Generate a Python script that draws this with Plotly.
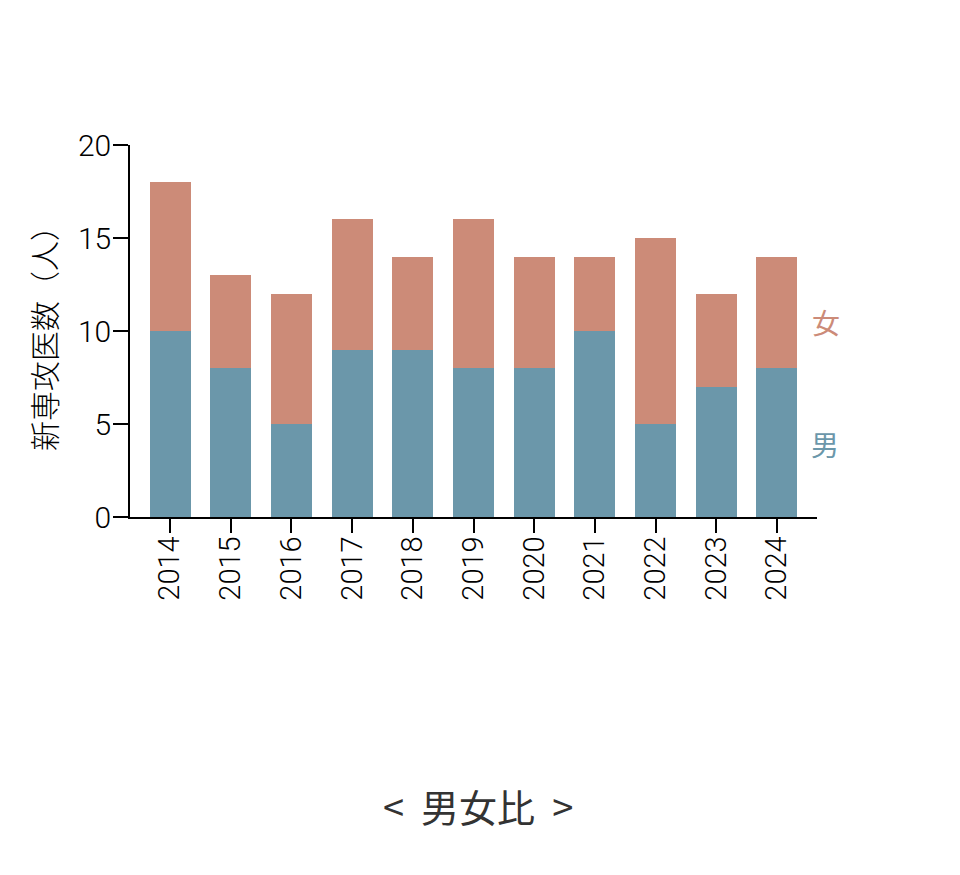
import plotly.graph_objects as go

years = ["2014", "2015", "2016", "2017", "2018", "2019", "2020", "2021", "2022", "2023", "2024"]
male = [10, 8, 5, 9, 9, 8, 8, 10, 5, 7, 8]
female = [8, 5, 7, 7, 5, 8, 6, 4, 10, 5, 6]

c_male = "#6b97aa"
c_female = "#cc8b78"
font_main = "Roboto, 'Noto Sans CJK JP', sans-serif"
font_cjk = "'Noto Sans CJK JP', sans-serif"

fig = go.Figure()
fig.add_trace(go.Bar(x=years, y=male, name="男", marker=dict(color=c_male, line=dict(width=0))))
fig.add_trace(go.Bar(x=years, y=female, name="女", marker=dict(color=c_female, line=dict(width=0))))

fig.update_layout(
    barmode="stack",
    bargap=0.325,
    width=960, height=875,
    margin=dict(l=130, r=143, t=145, b=358),
    plot_bgcolor="white", paper_bgcolor="white",
    showlegend=False,
    font=dict(family=font_main, size=28, color="black"),
    xaxis=dict(
        type="category", range=[-0.66, 10.66],
        showline=True, linecolor="black", linewidth=1.5,
        ticks="outside", ticklen=14, tickcolor="black", tickwidth=1.5,
        tickangle=-90, tickfont=dict(size=29, family=font_main, color="black", weight=300),
        ticklabelstandoff=-8,
        showgrid=False, zeroline=False,
    ),
    yaxis=dict(
        range=[0, 20], tickvals=[0, 5, 10, 15, 20],
        showline=True, linecolor="black", linewidth=1.5,
        ticks="outside", ticklen=15, tickcolor="black", tickwidth=1.5,
        tickfont=dict(size=30, family=font_main, color="black", weight=300),
        ticklabelstandoff=-4,
        showgrid=False, zeroline=False,
        title=dict(text="新専攻医数（人）", font=dict(size=30, family=font_cjk, color="black", weight=300), standoff=12),
    ),
)

fig.add_annotation(x=1.0, xref="paper", xanchor="left", xshift=-7, y=10.5, yref="y",
                   text="女", showarrow=False, font=dict(size=28, color=c_female, family=font_cjk))
fig.add_annotation(x=1.0, xref="paper", xanchor="left", xshift=-8, y=3.9, yref="y",
                   text="男", showarrow=False, font=dict(size=28, color=c_male, family=font_cjk))
fig.add_annotation(x=(478 - 130) / 687, xref="paper", y=-(805 - 517) / 372, yref="paper",
                   xanchor="center", yanchor="middle", showarrow=False,
                   text="&lt;&nbsp;&nbsp;男女比&nbsp;&nbsp;&gt;",
                   font=dict(size=38, color="#333333", family=font_cjk))

fig.write_html("out.html")
